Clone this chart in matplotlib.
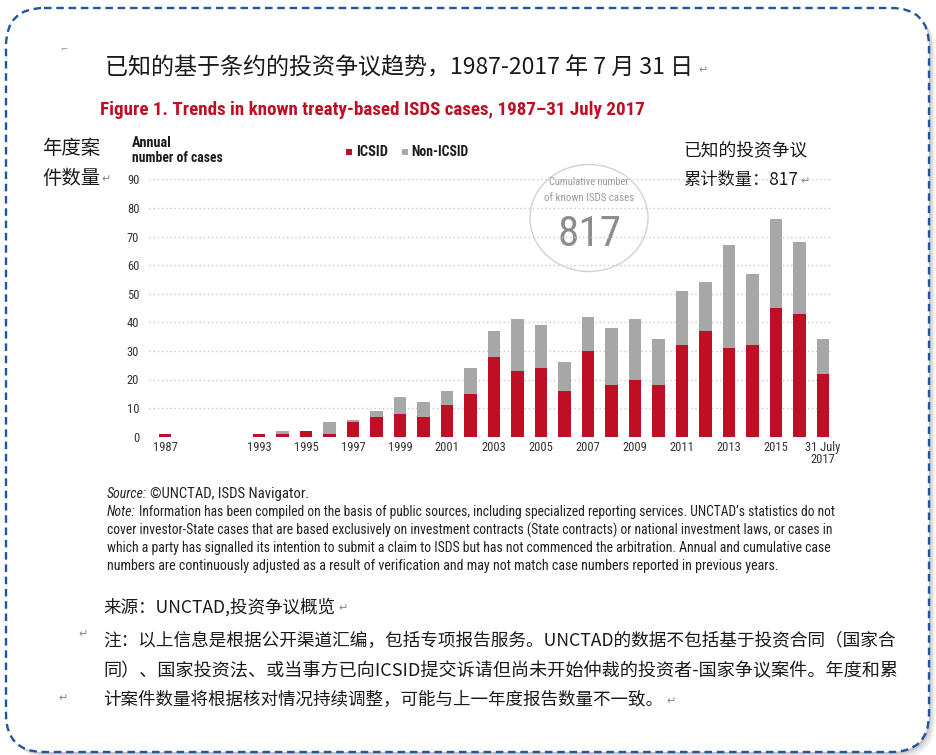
import os
import numpy as np
import matplotlib
matplotlib.use("Agg")
import matplotlib.pyplot as plt
from matplotlib.patches import FancyBboxPatch, Ellipse, Rectangle
from matplotlib import font_manager as fm
from matplotlib.font_manager import FontProperties

# ---------------- data ----------------
year_labels = ['1987', '1993', '1994', '1995', '1996', '1997', '1998', '1999', '2000',
               '2001', '2002', '2003', '2004', '2005', '2006', '2007', '2008', '2009',
               '2010', '2011', '2012', '2013', '2014', '2015', '2016', '31 July\n2017']
icsid = [1, 1, 1, 2, 1, 5, 7, 8, 7, 11, 15, 28, 23, 24, 16, 30, 18, 20, 18,
         32, 37, 31, 32, 45, 43, 22]
non_icsid = [0, 0, 1, 0, 4, 1, 2, 6, 5, 5, 9, 9, 18, 15, 10, 12, 20, 21, 16,
             19, 17, 36, 25, 31, 25, 12]
shown_ticks = ['1987', '1993', '1995', '1997', '1999', '2001', '2003', '2005', '2007',
               '2009', '2011', '2013', '2015', '31 July\n2017']
yticks = [0, 10, 20, 30, 40, 50, 60, 70, 80, 90]
cumulative = 817

# ---------------- fonts ----------------
def find_narrow(bold=False, italic=False):
    prefs = ['liberationsansnarrow', 'robotocondensed', 'opensanscondensed',
             'dejavusanscondensed', 'notosanscondensed', 'narrow', 'condensed']
    best = None
    best_score = 1e9
    for f in fm.fontManager.ttflist:
        base = os.path.basename(f.fname).lower().replace('-', '').replace('_', '')
        rank = None
        for i, p in enumerate(prefs):
            if p in base:
                rank = i
                break
        if rank is None:
            continue
        is_bold = (f.weight in ('bold', 700, 'heavy', 800)) or ('bold' in base)
        is_italic = f.style in ('italic', 'oblique') or 'italic' in base or 'oblique' in base
        if 'semi' in base or 'light' in base or 'thin' in base or 'black' in base or 'extra' in base:
            rank += 0.5
        score = rank * 10 + (0 if is_bold == bold else 5) + (0 if is_italic == italic else 3)
        if score < best_score:
            best_score = score
            best = f.fname
    if best is None:
        return FontProperties(family='DejaVu Sans',
                              weight='bold' if bold else 'normal',
                              style='italic' if italic else 'normal')
    return FontProperties(fname=best)


FP_N = find_narrow()
FP_B = find_narrow(bold=True)
FP_I = find_narrow(italic=True)
CJK = ['Noto Sans CJK SC', 'DejaVu Sans']

RED = '#BF0F24'
GREY = '#A7A7A7'

W, H = 936, 755
fig = plt.figure(figsize=(W / 100, H / 100), dpi=100)
bg = fig.add_axes([0, 0, 1, 1])
bg.set_xlim(0, W)
bg.set_ylim(H, 0)
bg.axis('off')
bg.set_zorder(0)

# frame with shadow
for off, a in [(6, 0.12), (4, 0.18), (2, 0.28)]:
    bg.add_patch(FancyBboxPatch((6 + off, 8 + off), 923, 744,
                                boxstyle="round,pad=0,rounding_size=38",
                                fc='#8a8a8a', ec='none', alpha=a, zorder=1))
bg.add_patch(FancyBboxPatch((6, 8), 923, 744, boxstyle="round,pad=0,rounding_size=38",
                            fc='white', ec='none', zorder=2))
bg.add_patch(FancyBboxPatch((6, 8), 923, 744, boxstyle="round,pad=0,rounding_size=38",
                            fc='none', ec='#1F569E', lw=1.7, linestyle=(0, (3.2, 2.0)),
                            zorder=3))

renderer = fig.canvas.get_renderer()


def fit(t, target_w):
    w = t.get_window_extent(renderer).width
    if w > 0:
        t.set_fontsize(t.get_fontsize() * target_w / w)
    return t


def T(x, y, s, w=None, fp=None, size=None, **kw):
    kw.setdefault('zorder', 5)
    if fp is not None:
        fp = fp.copy()
        if size is not None:
            fp.set_size(size)
        t = bg.text(x, y, s, fontproperties=fp, **kw)
    else:
        if size is not None:
            kw['fontsize'] = size
        t = bg.text(x, y, s, **kw)
    if w is not None:
        fit(t, w)
    return t


def right_px(t):
    bb = t.get_window_extent(renderer)
    return bb.x1


# little word anchor mark
T(60, 50, '⌐', size=6, color='#888888', va='center', family='DejaVu Sans')

# Chinese title
T(105, 68, '已知的基于条约的投资争议趋势，1987-2017 年 7 月 31 日', w=591,
  family=CJK, size=15, color='#1a1a1a', va='center')
T(698, 70, '↵', family='DejaVu Sans', size=8, color='#888888', va='center')

# Red English title
T(100, 110, 'Figure 1. Trends in known treaty-based ISDS cases, 1987–31 July 2017', w=543,
  fp=FP_B, size=13, color=RED, va='center')

# left Chinese label
T(42, 148, '年度案', w=58, family=CJK, size=13, color='#1a1a1a', va='center')
T(42, 178, '件数量', w=58, family=CJK, size=13, color='#1a1a1a', va='center')
T(101, 179, '↵', family='DejaVu Sans', size=8, color='#888888', va='center')

# axis title
T(132, 143, 'Annual', w=40, fp=FP_B, size=8, color='#1a1a1a', va='center')
T(132, 158, 'number of cases', w=91, fp=FP_B, size=8, color='#1a1a1a', va='center')

# legend
bg.add_patch(Rectangle((346, 149), 6, 6, fc=RED, ec='none', zorder=5))
T(356, 152, 'ICSID', w=32, fp=FP_B, size=8, color='#1a1a1a', va='center')
bg.add_patch(Rectangle((402, 149), 6, 6, fc=GREY, ec='none', zorder=5))
T(411, 152, 'Non-ICSID', w=57, fp=FP_B, size=8, color='#1a1a1a', va='center')

# right Chinese annotation
T(683, 150, '已知的投资争议', w=124, family=CJK, size=13, color='#1a1a1a', va='center')
T(683, 180, '累计数量：817', w=115, family=CJK, size=13, color='#1a1a1a', va='center')
T(800, 181, '↵', family='DejaVu Sans', size=8, color='#888888', va='center')

# ---------------- chart ----------------
ax = fig.add_axes([149 / W, 1 - 436.7 / H, (833 - 149) / W, (436.7 - 179.3) / H])
ax.set_zorder(4)
ax.patch.set_alpha(0)
x = np.array([0] + [4 + i for i in range(len(year_labels) - 1)])
ax.bar(x, icsid, width=0.52, color=RED, zorder=3)
ax.bar(x, non_icsid, bottom=icsid, width=0.52, color=GREY, zorder=3)
ax.set_xlim(-0.68, x[-1] + 0.43)
ax.set_ylim(0, 90)
for v in yticks[1:]:
    ax.axhline(v, color='#C8C8C8', lw=1.0, linestyle=(0, (1, 2)), zorder=1)
for s in ax.spines.values():
    s.set_visible(False)
tick_fp = FP_N.copy()
tick_fp.set_size(9)
ax.set_yticks(yticks)
ax.set_yticklabels([str(v) for v in yticks], fontproperties=tick_fp, color='#333333')
ax.tick_params(axis='y', length=0, pad=7)
tick_pos = [x[year_labels.index(l)] for l in shown_ticks]
ax.set_xticks(tick_pos)
ax.set_xticklabels(shown_ticks, fontproperties=tick_fp, color='#333333',
                   linespacing=0.95, multialignment='center')
ax.tick_params(axis='x', length=0, pad=3)

# cumulative circle
bg.add_patch(Ellipse((589, 218), 118, 107, fc='white', ec='#D2D2D2', lw=1.0, zorder=6))
T(589, 182, 'Cumulative number', w=80, fp=FP_N, size=8, color='#9A9A9A',
  ha='center', va='center', zorder=7)
T(589, 198, 'of known ISDS cases', w=90, fp=FP_N, size=8, color='#9A9A9A',
  ha='center', va='center', zorder=7)
T(589, 234, str(cumulative), w=64, fp=FP_N, size=30, color='#8C8C8C',
  ha='center', va='center', zorder=7)

# ---------------- notes ----------------
note_lines = [
    "Information has been compiled on the basis of public sources, including specialized reporting services. UNCTAD\u2019s statistics do not",
    "cover investor-State cases that are based exclusively on investment contracts (State contracts) or national investment laws, or cases in",
    "which a party has signalled its intention to submit a claim to ISDS but has not commenced the arbitration. Annual and cumulative case",
    "numbers are continuously adjusted as a result of verification and may not match case numbers reported in previous years.",
]
src = T(107, 494, 'Source:', fp=FP_I, size=10, color='#222222', va='center')
T(right_px(src) + 3, 494, '\u00a9UNCTAD, ISDS Navigator.', w=160, fp=FP_N, size=9,
  color='#222222', va='center')
nt = T(107, 512, 'Note:', fp=FP_I, size=10, color='#222222', va='center')
x0 = right_px(nt) + 3
T(x0, 512, note_lines[0], w=838 - x0, fp=FP_N, size=9, color='#222222', va='center')
T(107, 530, note_lines[1], w=731, fp=FP_N, size=9, color='#222222', va='center')
T(107, 548, note_lines[2], w=727, fp=FP_N, size=9, color='#222222', va='center')
T(107, 566, note_lines[3], w=676, fp=FP_N, size=9, color='#222222', va='center')

# Chinese source/note
cn_lines = [
    (103, 607, '来源：UNCTAD,投资争议概览', 232),
    (103, 641, '注：以上信息是根据公开渠道汇编，包括专项报告服务。UNCTAD的数据不包括基于投资合同（国家合', 792),
    (103, 671, '同）、国家投资法、或当事方已向ICSID提交诉请但尚未开始仲裁的投资者-国家争议案件。年度和累', 792),
    (103, 700, '计案件数量将根据核对情况持续调整，可能与上一年度报告数量不一致。', 560),
]
for xx, yy, s, w in cn_lines:
    T(xx, yy, s, w=w, family=CJK, size=13, color='#1a1a1a', va='center')
T(338, 608, '↵', family='DejaVu Sans', size=8, color='#888888', va='center')
T(666, 701, '↵', family='DejaVu Sans', size=8, color='#888888', va='center')
T(78, 634, '↵', family='DejaVu Sans', size=8, color='#888888', va='center')
T(58, 698, '↵', family='DejaVu Sans', size=8, color='#888888', va='center')

fig.savefig('out.png', dpi=100)
